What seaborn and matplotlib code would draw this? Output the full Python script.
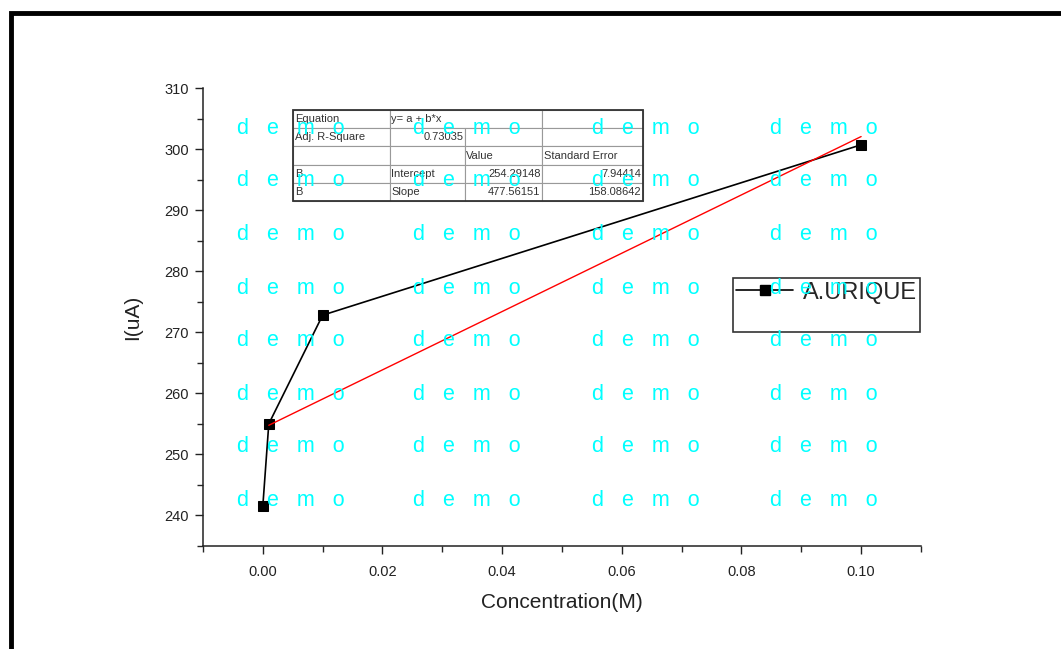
import numpy as np
import pandas as pd
import matplotlib
matplotlib.use("Agg")
import matplotlib.pyplot as plt
import seaborn as sns
from matplotlib.patches import Rectangle
from matplotlib.lines import Line2D
from matplotlib.ticker import MultipleLocator

# data
conc = [0.0, 0.001, 0.01, 0.1]
current = [241.5, 255.0, 272.8, 300.7]
series_name = "A.URIQUE"

# linear fit results (shown in table)
intercept = 254.29148
slope = 477.56151
fit_x = [0.001, 0.1]
table_rows = [
    ["Equation", "y= a + b*x", "", ""],
    ["Adj. R-Square", "0.73035", "", ""],
    ["", "", "Value", "Standard Error"],
    ["B", "Intercept", "254.29148", "7.94414"],
    ["B", "Slope", "477.56151", "158.08642"],
]

sns.set_style("ticks")
plt.rcParams['font.family'] = ['Liberation Sans', 'DejaVu Sans']

df = pd.DataFrame({"x": conc, "y": current})
fit_df = pd.DataFrame({"x": fit_x, "y": [intercept + slope * v for v in fit_x]})

fig = plt.figure(figsize=(10.61, 6.49), dpi=100)
ax = fig.add_axes([0.1913, 0.1587, 0.6767, 0.7057])

sns.lineplot(data=df, x="x", y="y", ax=ax, color="black", lw=1.2,
             marker="s", markersize=7, markeredgecolor="black", label=series_name)
sns.lineplot(data=fit_df, x="x", y="y", ax=ax, color="red", lw=1.0, label=None)

ax.set_xlim(-0.01, 0.11)
ax.set_ylim(235, 310)
ax.xaxis.set_major_locator(MultipleLocator(0.02))
ax.xaxis.set_minor_locator(MultipleLocator(0.01))
ax.yaxis.set_major_locator(MultipleLocator(10))
ax.yaxis.set_minor_locator(MultipleLocator(5))
ax.xaxis.set_major_formatter(matplotlib.ticker.FormatStrFormatter('%.2f'))
ax.tick_params(which='major', direction='out', length=6, width=1, labelsize=10.5, colors='#222222')
ax.tick_params(which='minor', direction='out', length=4, width=1)
ax.tick_params(axis='x', pad=8)
ax.tick_params(axis='y', pad=4)
sns.despine(ax=ax)
for s in ['left', 'bottom']:
    ax.spines[s].set_linewidth(1.1)
    ax.spines[s].set_color('#222222')

ax.set_xlabel("Concentration(M)", fontsize=15, color='#222222', labelpad=10)
ax.set_ylabel("I(uA)", fontsize=15, color='#222222', labelpad=16)

# legend with extra blank row for box height
handles = [Line2D([0], [0], color='black', lw=1.2, marker='s', markersize=7),
           Line2D([0], [0], color='none')]
leg = ax.legend(handles, [series_name, " "], loc='upper left',
                bbox_to_anchor=(0.738, 0.585), frameon=True, fancybox=False,
                edgecolor='black', fontsize=17, handlelength=2.4, borderpad=0.15,
                labelspacing=0.1, borderaxespad=0, handletextpad=0.4)
leg.get_frame().set_linewidth(1.2)

# fit results table
tbl = ax.table(cellText=table_rows, cellLoc='left',
               colWidths=[97, 75, 77, 101],
               bbox=[0.125, 0.753, 0.488, 0.199], zorder=5)
tbl.auto_set_font_size(False)
for (r, c), cell in tbl.get_celld().items():
    cell.set_edgecolor('#999999')
    cell.set_linewidth(0.8)
    cell.set_facecolor('white')
    cell.get_text().set_fontsize(8)
    cell.get_text().set_color('#333333')
    cell.PAD = 0.02
    if (r, c) in [(1, 1), (3, 2), (3, 3), (4, 2), (4, 3)]:
        cell.get_text().set_ha('right')
        cell._loc = 'right'
tbl[0, 1].visible_edges = 'BTL'
tbl[0, 2].visible_edges = 'BTR'
tbl_frame = Rectangle((0.125, 0.753), 0.488, 0.199, transform=ax.transAxes,
                      fill=False, edgecolor='#333333', lw=1.3, zorder=6)
ax.add_patch(tbl_frame)

# outer frame
fig.add_artist(Rectangle((11 / 1061, -0.05), 1.2, 1 - 13 / 649 + 0.05,
                         transform=fig.transFigure, fill=False,
                         edgecolor='black', lw=3.5))

# demo watermark
wm_x = [237, 413, 592, 770]
wm_y = [128, 181, 235, 288, 341, 394, 447, 501]
for yy in wm_y:
    for xx in wm_x:
        fig.text(xx / 1061, 1 - yy / 649, "d   e   m   o", color='#00ffff',
                 fontsize=15.5, ha='left', va='center', zorder=10)

fig.savefig("out.png", dpi=100)
